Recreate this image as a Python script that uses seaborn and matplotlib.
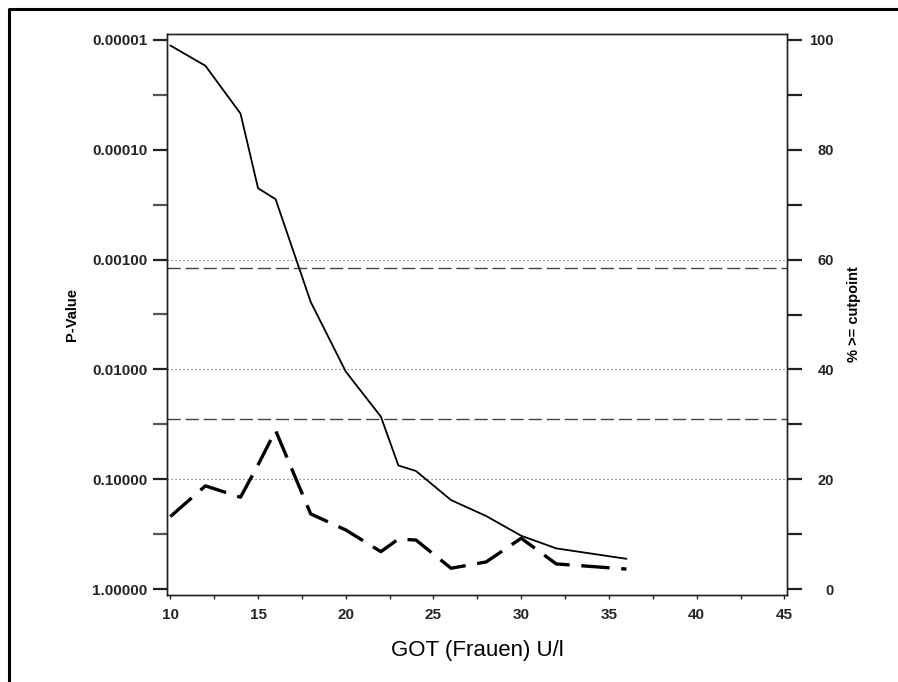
import numpy as np
import matplotlib
matplotlib.use("Agg")
import matplotlib.pyplot as plt
import seaborn as sns
from matplotlib.lines import Line2D
from matplotlib.ticker import FixedLocator, FixedFormatter, NullFormatter

# ---------------- data ----------------
cutpoints = [10, 12, 14, 15, 16, 18, 20, 22, 23, 24, 26, 28, 30, 32, 36]
pct_above = [99.0, 95.3, 86.6, 73.0, 71.0, 52.3, 39.6, 31.4, 22.5, 21.5, 16.2, 13.3, 9.7, 7.4, 5.5]
p_values = [0.219, 0.115, 0.146, 0.074, 0.036, 0.207, 0.29, 0.457, 0.351, 0.358,
            0.647, 0.567, 0.345, 0.591, 0.658]

p_ticks = [0.00001, 0.0001, 0.001, 0.01, 0.1, 1.0]
p_tick_labels = ["0.00001", "0.00010", "0.00100", "0.01000", "0.10000", "1.00000"]
p_minor = [10 ** -4.5, 10 ** -3.5, 10 ** -2.5, 10 ** -1.5, 10 ** -0.5]
pct_ticks = [0, 20, 40, 60, 80, 100]
pct_minor = [10, 30, 50, 70, 90]
x_ticks = [10, 15, 20, 25, 30, 35, 40, 45]
x_minor = [12.5, 17.5, 22.5, 27.5, 32.5, 37.5, 42.5]
dotted_refs = [0.001, 0.01, 0.1]
dashed_refs = [0.0012, 0.0283]

# ---------------- style ----------------
sns.set_theme(style="white")
plt.rcParams["font.family"] = ["Liberation Sans", "DejaVu Sans"]

W, H = 898, 682
fig = plt.figure(figsize=(W / 100, H / 100), dpi=100)
fig.patch.set_facecolor("white")

L, R, T, B = 167, 787, 34, 595
ax = fig.add_axes([L / W, (H - B) / H, (R - L) / W, (B - T) / H])
ax.set_facecolor("white")

# reference lines
for v in dotted_refs:
    ax.axhline(v, color="#555555", lw=0.8, linestyle=(0, (1, 2.6)), zorder=1)
for v in dashed_refs:
    ax.axhline(v, color="#444444", lw=1.0, linestyle=(0, (9.5, 3.5)), zorder=1)

# P-value line (left axis, log, inverted)
sns.lineplot(x=cutpoints, y=p_values, ax=ax, color="black", lw=2.4,
             linestyle=(0, (8.5, 3.5)), zorder=3)
ax.set_yscale("log")
ax.set_ylim(1.134, 8.82e-6)
ax.set_xlim(9.81, 45.15)

ax2 = ax.twinx()
sns.lineplot(x=cutpoints, y=pct_above, ax=ax2, color="black", lw=1.3, zorder=3)
ax2.set_ylim(-1.09, 101.09)
ax2.set_xlim(9.81, 45.15)

# ticks - left
ax.yaxis.set_major_locator(FixedLocator(p_ticks))
ax.yaxis.set_major_formatter(FixedFormatter(p_tick_labels))
ax.yaxis.set_minor_locator(FixedLocator(p_minor))
ax.yaxis.set_minor_formatter(NullFormatter())
ax.tick_params(axis="y", which="both", direction="out", length=10, width=1.6,
               color="#222222", pad=4.3, labelsize=11, left=True, right=False)
ax.tick_params(axis="y", which="minor", color="#555555")
for t in ax.get_yticklabels():
    t.set_fontweight("bold")

# ticks - x
ax.xaxis.set_major_locator(FixedLocator(x_ticks))
ax.xaxis.set_minor_locator(FixedLocator(x_minor))
ax.xaxis.set_minor_formatter(NullFormatter())
ax.tick_params(axis="x", which="both", direction="out", length=3, width=1,
               color="#222222", pad=6.5, labelsize=11, bottom=True)
for t in ax.get_xticklabels():
    t.set_fontweight("bold")

# ticks - right
ax2.yaxis.set_major_locator(FixedLocator(pct_ticks))
ax2.yaxis.set_minor_locator(FixedLocator(pct_minor))
ax2.yaxis.set_minor_formatter(NullFormatter())
ax2.tick_params(axis="y", which="both", direction="out", length=10.8, width=1.6,
                color="#222222", pad=23, labelsize=10.5, right=True, left=False)
for t in ax2.get_yticklabels():
    t.set_fontweight("bold")
    t.set_horizontalalignment("right")

# spines
for a in (ax, ax2):
    for s in a.spines.values():
        s.set_visible(True)
        s.set_color("#222222")
        s.set_linewidth(1.0)

# labels
ax.set_xlabel("GOT (Frauen) U/l", fontsize=16, color="black")
ax.xaxis.set_label_coords(0.5, -0.080)
ax.set_ylabel("P-Value", fontsize=10.5, fontweight="bold", color="black")
ax.yaxis.set_label_coords(-0.142, 0.5)
ax2.set_ylabel("% >= cutpoint", fontsize=10.5, fontweight="bold", color="black")
ax2.yaxis.set_label_coords(1.097, 0.5)

# outer frame (open at right/bottom as in the reference)
fig.add_artist(Line2D([9 / W, 9 / W, 1.0], [0.0, 1 - 9 / H, 1 - 9 / H],
                      transform=fig.transFigure, color="black", lw=2.2))

fig.savefig("out.png", dpi=100, facecolor="white")
